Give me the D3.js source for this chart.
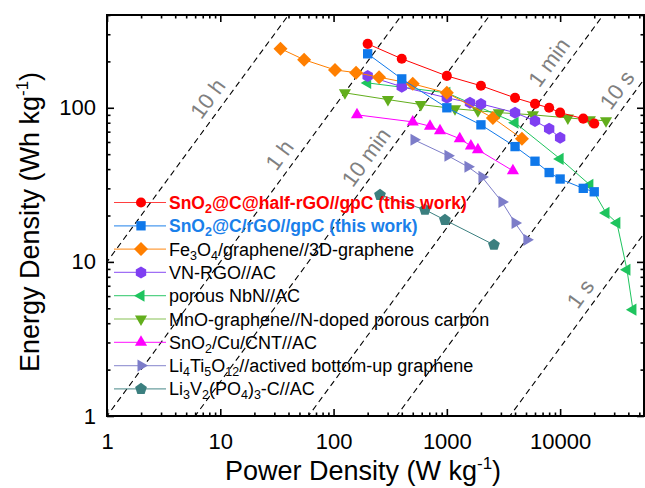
<!DOCTYPE html>
<html>
<head>
<meta charset="utf-8">
<script src="https://cdn.jsdelivr.net/npm/d3@7"></script>
<style>
  body { margin: 0; background: #fff; }
  svg { font-family: Arial, "Liberation Sans", sans-serif; }
</style>
</head>
<body>
<div id="chart"></div>
<script>
// power density (W/kg) and energy density (Wh/kg)
const halfRgoP = [200, 400, 1000, 2000, 4000, 6000, 8000, 10000, 16000, 20000];
const halfRgoE = [260, 208, 161, 139, 116, 106, 100, 93, 85, 79];
const rgoP = [200, 400, 1000, 2000, 4000, 6000, 8000, 10000, 16000, 20000];
const rgoE = [224, 154, 100, 77.5, 56, 45, 38, 34.5, 30, 28.5];
const fe3o4P = [34, 55, 103, 158, 252, 500, 1000, 2550, 4600];
const fe3o4E = [242, 205, 176, 169, 158, 143, 125, 86, 63];
const vnP = [200, 400, 1000, 1600, 2000, 4000, 6000, 8000, 10000];
const vnE = [161, 137, 116, 108, 106, 93, 82, 73, 64];
const nbnP = [200, 1000, 4000, 10000, 18300, 25400, 31700, 38900, 43900];
const nbnE = [145, 125, 80, 46.6, 31.6, 20.8, 17.9, 8.9, 4.9];
const mnoP = [126, 302, 590, 1180, 1880, 2880, 5750, 11700, 18300, 25400];
const mnoE = [125, 113, 105, 98.6, 95.6, 93, 90, 86, 83.6, 82.4];
const snCuP = [161, 500, 710, 870, 1300, 1630, 1880, 3830];
const snCuE = [90, 81, 76, 71, 63, 56.6, 53.4, 39];
const ltoP = [513, 1023, 1536, 2040, 3065, 4000, 5090];
const ltoE = [62, 48.8, 41.4, 35.6, 24.5, 17.9, 13.9];
const lvpP = [257, 641, 962, 2605];
const lvpE = [27.2, 21.8, 18.7, 12.9];

// legend labels: [text, subscript?] pieces
const seriesLabels = [
  [["SnO", 0], ["2", 1], ["@C@half-rGO//gpC (this work)", 0]],
  [["SnO", 0], ["2", 1], ["@C/rGO//gpC (this work)", 0]],
  [["Fe", 0], ["3", 1], ["O", 0], ["4", 1], ["/graphene//3D-graphene", 0]],
  [["VN-RGO//AC", 0]],
  [["porous NbN//AC", 0]],
  [["MnO-graphene//N-doped porous carbon", 0]],
  [["SnO", 0], ["2", 1], ["/Cu/CNT//AC", 0]],
  [["Li", 0], ["4", 1], ["Ti", 0], ["5", 1], ["O", 0], ["12", 1], ["//actived bottom-up graphene", 0]],
  [["Li", 0], ["3", 1], ["V", 0], ["2", 1], ["(PO", 0], ["4", 1], [")", 0], ["3", 1], ["-C//AC", 0]]
];
const seriesColors = ["#ff0000", "#0f78ea", "#ff7f00", "#7f3ff2", "#1ec45e", "#62ae1c", "#ff00ff", "#7d7dc9", "#3b7f7f"];
const seriesShapes = ["circle", "square", "diamond", "hexagon", "left", "down", "up", "right", "pentagon"];
const labelColors = ["#ff0000", "#1a80ea", "#000", "#000", "#000", "#000", "#000", "#000", "#000"];
const labelBold = [true, true, false, false, false, false, false, false, false];

// constant discharge-time lines (hours) and where their labels sit (power)
const timeLabels = ["10 h", "1 h", "10 min", "1 min", "10 s", "1 s"];
const timeHours = [10, 1, 1 / 6, 1 / 60, 1 / 360, 1 / 3600];
const timeLabelP = [10, 43, 250, 10300, 41000, 19500];

const xTickValues = [1, 10, 100, 1000, 10000];
const yTickValues = [1, 10, 100];

const series = [
  [halfRgoP, halfRgoE], [rgoP, rgoE], [fe3o4P, fe3o4E], [vnP, vnE], [nbnP, nbnE],
  [mnoP, mnoE], [snCuP, snCuE], [ltoP, ltoE], [lvpP, lvpE]
].map(([p, e], i) => ({
  name: i, color: seriesColors[i], shape: seriesShapes[i],
  values: p.map((v, j) => ({p: v, e: e[j]}))
}));

const W = 645, H = 488;
const margin = {top: 15, right: 1, bottom: 72, left: 107};

const svg = d3.select("#chart").append("svg").attr("width", W).attr("height", H);

const x = d3.scaleLog().domain([1, 55000]).range([margin.left, W - margin.right]);
const y = d3.scaleLog().domain([1, 400]).range([H - margin.bottom, margin.top]);

const [x0, x1] = x.range(), [y0, y1] = y.range();

svg.append("clipPath").attr("id", "clip")
  .append("rect").attr("x", x0).attr("y", y1).attr("width", x1 - x0).attr("height", y0 - y1);

// dashed time lines
const ang = Math.atan2(y(10) - y(1), x(10) - x(1)) * 180 / Math.PI;
const guides = svg.append("g").attr("clip-path", "url(#clip)");
timeHours.forEach(t => {
  guides.append("line")
    .attr("x1", x(0.01)).attr("y1", y(0.01 * t))
    .attr("x2", x(1e6)).attr("y2", y(1e6 * t))
    .attr("stroke", "#000").attr("stroke-width", 1.1)
    .attr("stroke-dasharray", "6,4");
});
timeLabels.forEach((lab, i) => {
  const p = timeLabelP[i];
  svg.append("text")
    .attr("transform", `translate(${x(p)},${y(p * timeHours[i])}) rotate(${ang})`)
    .attr("dy", -8)
    .attr("text-anchor", "middle")
    .attr("font-size", 22)
    .attr("fill", "#808080")
    .text(lab);
});

// marker shapes
function shapePath(type) {
  const poly = (n, r, rot) => {
    const pts = d3.range(n).map(k => {
      const a = rot + k * 2 * Math.PI / n;
      return [r * Math.cos(a), r * Math.sin(a)];
    });
    return "M" + pts.map(q => q.join(",")).join("L") + "Z";
  };
  switch (type) {
    case "circle": return d3.symbol(d3.symbolCircle, 80)();
    case "square": return poly(4, 6.6, Math.PI / 4);
    case "diamond": return poly(4, 7, -Math.PI / 2);
    case "hexagon": return poly(6, 6, -Math.PI / 2);
    case "pentagon": return poly(5, 6.2, -Math.PI / 2);
    case "up": return poly(3, 7, -Math.PI / 2);
    case "down": return poly(3, 7, Math.PI / 2);
    case "left": return poly(3, 7, Math.PI);
    case "right": return poly(3, 7, 0);
  }
}

const line = d3.line().x(d => x(d.p)).y(d => y(d.e));
const plot = svg.append("g");
series.slice().reverse().forEach(s => {
  const g = plot.append("g");
  g.append("path").datum(s.values)
    .attr("d", line).attr("fill", "none")
    .attr("stroke", s.color).attr("stroke-width", 1);
  g.selectAll("path.pt").data(s.values).enter().append("path")
    .attr("class", "pt")
    .attr("transform", d => `translate(${x(d.p)},${y(d.e)})`)
    .attr("d", shapePath(s.shape))
    .attr("fill", s.color);
});

// axes with inward ticks
const minorX = x.ticks().filter(v => !xTickValues.includes(v) && v < 55000);
const minorY = y.ticks().filter(v => !yTickValues.includes(v));

function addAxis(axisFn, scale, major, minor, pos, labels) {
  const gMin = svg.append("g").attr("transform", pos)
    .call(axisFn(scale).tickValues(minor).tickSize(-3.5).tickFormat(""));
  const gMaj = svg.append("g").attr("transform", pos)
    .call(axisFn(scale).tickValues(major).tickSize(-7).tickPadding(labels ? 14 : 0)
      .tickFormat(labels ? d3.format("d") : ""));
  [gMin, gMaj].forEach(g => {
    g.select(".domain").remove();
    g.selectAll(".tick line").attr("stroke", "#000").attr("stroke-width", 1.6);
  });
  gMaj.selectAll(".tick text").attr("font-size", 22).attr("fill", "#000")
    .attr("font-family", "Arial, 'Liberation Sans', sans-serif");
  return gMaj;
}
const xa = addAxis(d3.axisBottom, x, xTickValues, minorX, `translate(0,${y0})`, true);
xa.selectAll(".tick text").attr("dy", "0.85em");
addAxis(d3.axisTop, x, xTickValues, minorX, `translate(0,${y1})`, false);
const ya = addAxis(d3.axisLeft, y, yTickValues, minorY, `translate(${x0},0)`, true);
ya.selectAll(".tick text").attr("dx", 3);
addAxis(d3.axisRight, y, yTickValues, minorY, `translate(${x1},0)`, false);

svg.append("rect")
  .attr("x", x0).attr("y", y1).attr("width", x1 - x0).attr("height", y0 - y1)
  .attr("fill", "none").attr("stroke", "#000").attr("stroke-width", 2);

// axis titles
const xt = svg.append("text").attr("x", 363).attr("y", 480)
  .attr("text-anchor", "middle").attr("font-size", 27);
xt.append("tspan").text("Power Density (W kg");
xt.append("tspan").attr("dy", -11).attr("font-size", 17).text("-1");
xt.append("tspan").attr("dy", 11).text(")");

const yt = svg.append("text")
  .attr("transform", "translate(39,222) rotate(-90)")
  .attr("text-anchor", "middle").attr("font-size", 27);
yt.append("tspan").text("Energy Density (Wh kg");
yt.append("tspan").attr("dy", -11).attr("font-size", 17).text("-1");
yt.append("tspan").attr("dy", 11).text(")");

// legend
const legend = svg.append("g");
series.forEach((s, i) => {
  const ly = 202.5 + i * 23.3;
  const fs = labelBold[i] ? 17.5 : 18;
  const row = legend.append("g").attr("transform", `translate(0,${ly})`);
  row.append("line").attr("x1", 114).attr("x2", 166).attr("y1", 0).attr("y2", 0)
    .attr("stroke", s.color).attr("stroke-width", 1.2).attr("opacity", 0.75);
  row.append("path").attr("transform", "translate(141,0)")
    .attr("d", shapePath(s.shape)).attr("fill", s.color);
  const t = row.append("text").attr("x", 169).attr("y", 6.5)
    .attr("font-size", fs)
    .attr("font-weight", labelBold[i] ? "bold" : "normal")
    .attr("fill", labelColors[i]);
  let shift = 0;
  seriesLabels[i].forEach(([txt, sub]) => {
    const want = sub ? 4 : 0;
    t.append("tspan").attr("dy", want - shift)
      .attr("font-size", sub ? 12.5 : fs).text(txt);
    shift = want;
  });
});
</script>
</body>
</html>
